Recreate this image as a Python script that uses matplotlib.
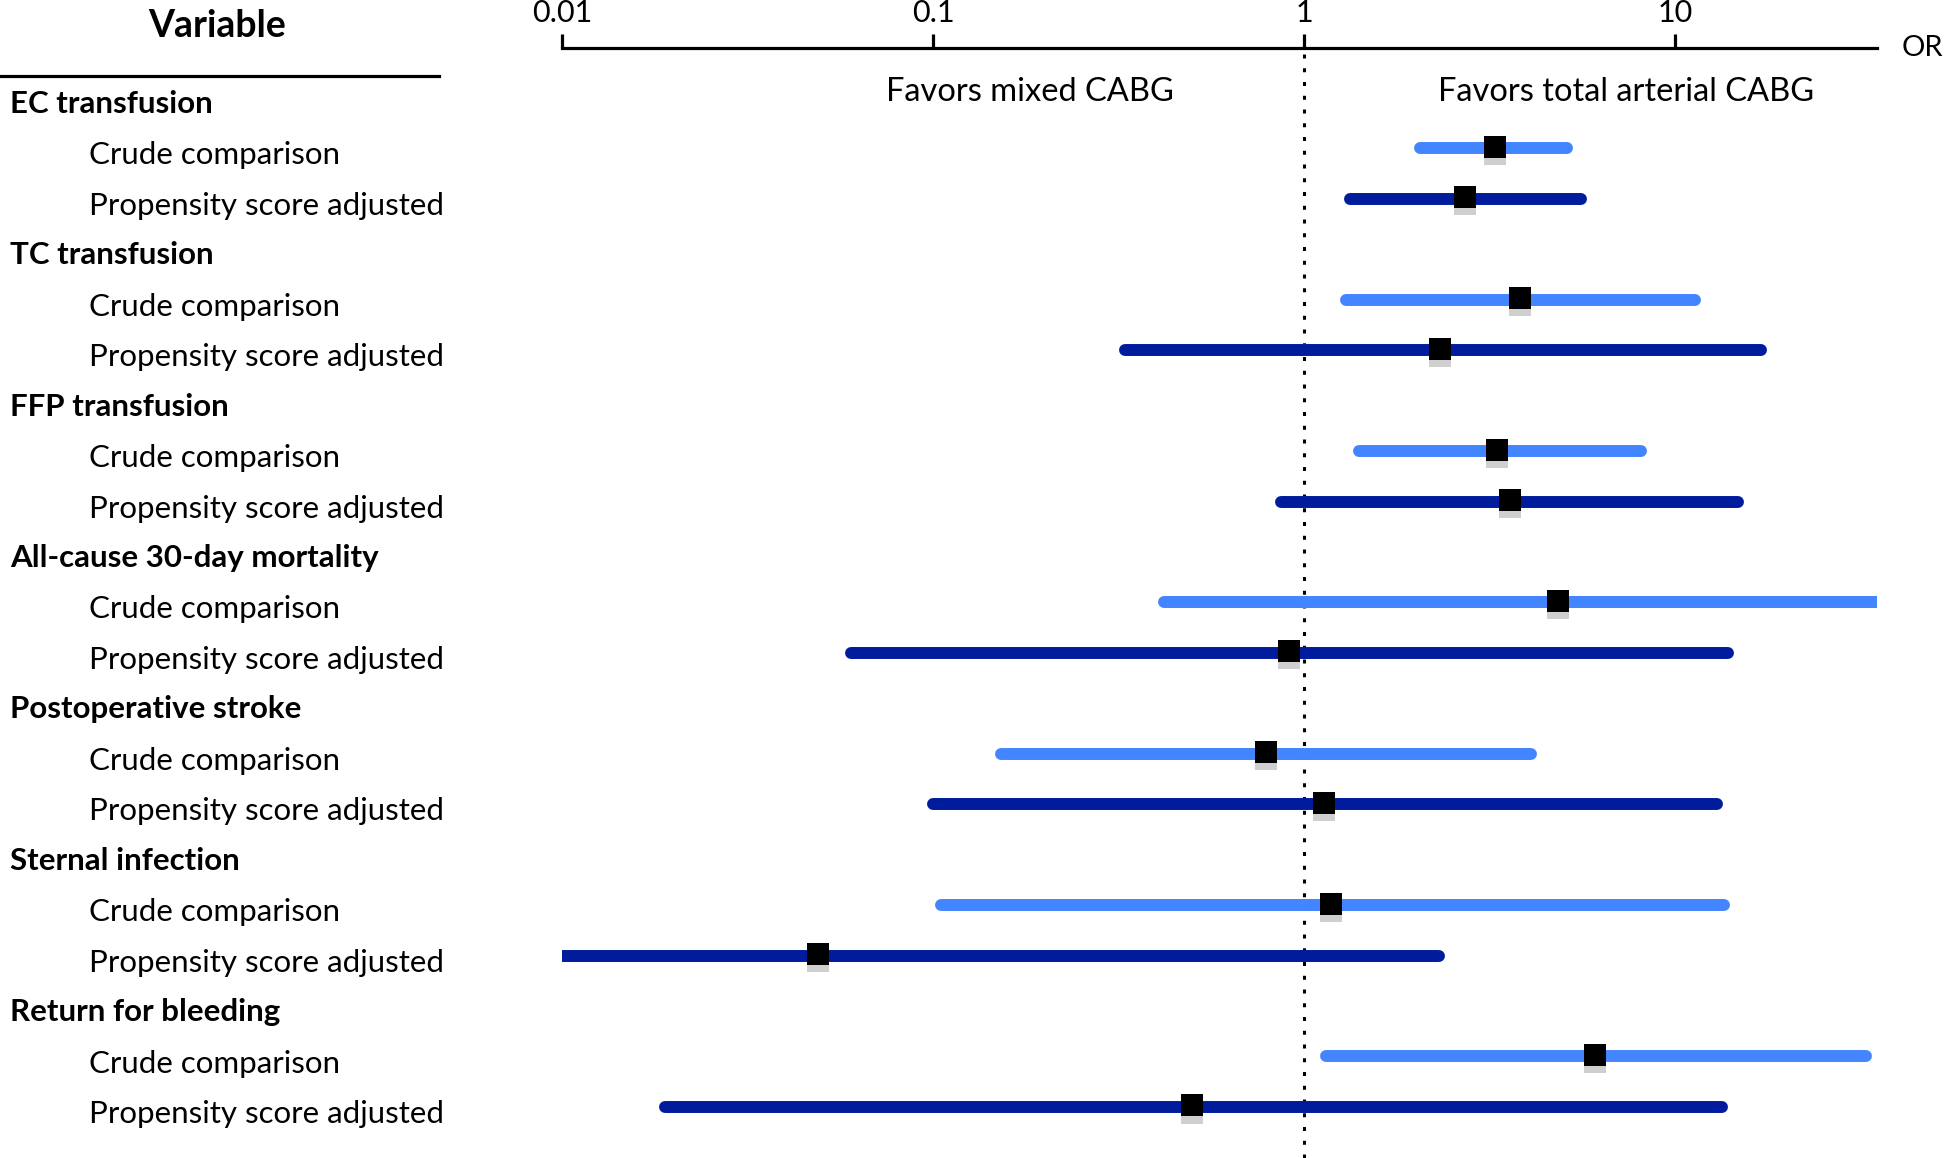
import matplotlib
matplotlib.use("Agg")
import matplotlib.pyplot as plt
import matplotlib.transforms as mtrans

plt.rcParams['font.family'] = ['Lato', 'DejaVu Sans']

groups = ["EC transfusion", "TC transfusion", "FFP transfusion",
          "All-cause 30-day mortality", "Postoperative stroke",
          "Sternal infection", "Return for bleeding"]
sub_labels = ["Crude comparison", "Propensity score adjusted"]

crude_or = [3.27, 3.82, 3.32, 4.85, 0.79, 1.18, 6.11]
crude_lo = [2.05, 1.30, 1.41, 0.42, 0.153, 0.105, 1.15]
crude_hi = [5.12, 11.3, 8.12, 50.0, 4.09, 13.6, 32.7]

ps_or = [2.72, 2.33, 3.59, 0.91, 1.13, 0.049, 0.50]
ps_lo = [1.33, 0.33, 0.87, 0.060, 0.10, 0.008, 0.019]
ps_hi = [5.57, 17.1, 14.8, 13.9, 13.0, 2.31, 13.4]

ticks = [0.01, 0.1, 1, 10]
tick_labels = ["0.01", "0.1", "1", "10"]

W, H = 1946, 1158
fig = plt.figure(figsize=(W / 100, H / 100), dpi=100)

ax_top_px = 48
row0_px = 104
row_step = 50.45
ax_left = 562 / W
ax_right = 1877 / W
ax = fig.add_axes([ax_left, 0, ax_right - ax_left, (H - ax_top_px) / H])
ax.set_xscale('log')
ax.set_xlim(0.01, 10 ** 1.545)
ax.set_ylim((H - row0_px) / row_step, (ax_top_px - row0_px) / row_step)

for s in ['left', 'right', 'bottom']:
    ax.spines[s].set_visible(False)
ax.spines['top'].set_linewidth(2.3)
ax.xaxis.tick_top()
ax.set_xticks(ticks)
ax.set_xticklabels(tick_labels, fontsize=22)
ax.xaxis.set_minor_locator(matplotlib.ticker.NullLocator())
ax.tick_params(axis='x', which='major', direction='out', length=10, width=2.3, pad=5)
ax.set_yticks([])

light = '#4285ff'
dark = '#001c9c'
lw = 8.6
shadow = mtrans.offset_copy(ax.transData, fig=fig, x=0, y=-4, units='points')
off = 0.12

for i, g in enumerate(groups):
    yh = i * 3
    yc = yh + 1
    yp = yh + 2
    ax.plot([crude_lo[i], crude_hi[i]], [yc - off, yc - off], color=light, lw=lw,
            solid_capstyle='round', zorder=2)
    ax.plot([ps_lo[i], ps_hi[i]], [yp - off, yp - off], color=dark, lw=lw,
            solid_capstyle='round', zorder=2)
    for v, y in [(crude_or[i], yc - off), (ps_or[i], yp - off)]:
        ax.plot([v], [y], marker='s', ms=15.5, color='#777777', alpha=0.35, mew=0,
                transform=shadow, zorder=3)
        ax.plot([v], [y - 0.03], marker='s', ms=15.5, color='black', mew=0, zorder=4)
    fig.text(10 / W, 1 - (row0_px + yh * row_step) / H, g, fontsize=22.5, fontweight='bold',
             ha='left', va='center')
    fig.text(89 / W, 1 - (row0_px + yc * row_step + 1) / H, sub_labels[0], fontsize=22.5,
             ha='left', va='center')
    fig.text(89 / W, 1 - (row0_px + yp * row_step + 1) / H, sub_labels[1], fontsize=22.5,
             ha='left', va='center')

ax.axvline(1, color='black', lw=2.2, linestyle=(0, (1.3, 3.2)), zorder=1)

fig.text(217 / W, 1 - 26 / H, "Variable", fontsize=27, fontweight='bold', ha='center', va='center')
fig.add_artist(plt.Line2D([0, 439 / W], [1 - 76 / H, 1 - 76 / H], color='black', lw=2.3))

fig.text(1030 / W, 1 - 92 / H, "Favors mixed CABG", fontsize=23.5, ha='center', va='center')
fig.text(1626 / W, 1 - 92 / H, "Favors total arterial CABG", fontsize=23.5, ha='center', va='center')
fig.text(1943 / W, 1 - 48 / H, "OR", fontsize=21, ha='right', va='center')

fig.savefig("out.png", dpi=100)
